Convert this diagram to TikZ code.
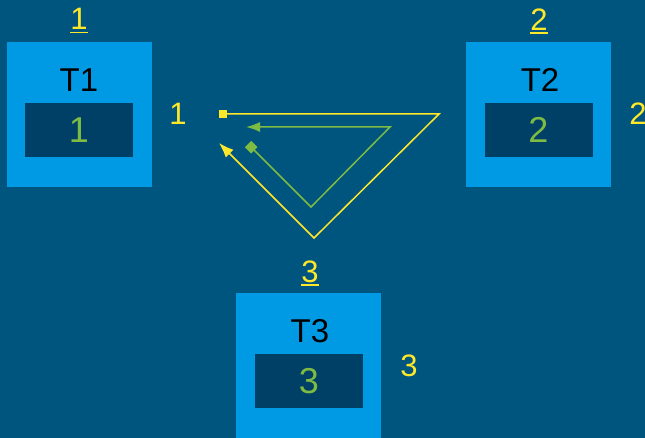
\documentclass[tikz,border=0pt]{standalone}
\usepackage{fontspec}
\setmainfont{Liberation Sans}
\usetikzlibrary{arrows.meta}
\definecolor{bg}{HTML}{00557F}
\definecolor{boxc}{HTML}{0099E3}
\definecolor{innerc}{HTML}{003F66}
\definecolor{yel}{HTML}{FFE829}
\definecolor{grn}{HTML}{7DBB42}
\newcommand{\ulnum}[1]{\setbox0\hbox{#1}\rlap{\rule[-3.5pt]{\wd0}{1.8pt}}#1}
\begin{document}
\begin{tikzpicture}[x=1pt,y=-1pt,
  outerbox/.style={fill=boxc,draw=none,minimum width=145pt,minimum height=145pt,inner sep=0pt},
  innerbox/.style={fill=innerc,draw=none,minimum width=108pt,minimum height=54pt,inner sep=0pt,text=grn,font=\fontsize{36}{40}\selectfont},
  title/.style={text=black,font=\fontsize{33}{36}\selectfont,inner sep=0pt},
  ylab/.style={text=yel,font=\fontsize{31}{34}\selectfont,inner sep=0pt},
  yline/.style={draw=yel,line width=1.5pt},
  gline/.style={draw=grn,line width=1.5pt}]
\fill[bg] (0,0) rectangle (645,438);
\useasboundingbox (0,0) rectangle (645,438);
% boxes
\node[outerbox] (b1) at (79.5,114.5) {};
\node[innerbox] (i1) at (79,130) {1};
\node[title] (t1) at (79,80) {T1};
\node[ylab] (u1) at (79,21) {\ulnum{1}};
\node[ylab] (l1) at (178,114) {1};

\node[outerbox] (b2) at (538.5,114.5) {};
\node[innerbox] (i2) at (538.5,130) {2};
\node[title] (t2) at (540,80) {T2};
\node[ylab] (u2) at (539,21) {\ulnum{2}};
\node[ylab] (l2) at (638,114) {2};

\node[outerbox] (b3) at (308.5,365.5) {};
\node[innerbox] (i3) at (309,381) {3};
\node[title] (t3) at (310,331) {T3};
\node[ylab] (u3) at (310,273) {\ulnum{3}};
\node[ylab] (l3) at (409,366) {3};
% yellow path
\coordinate (ya) at (219,114);
\coordinate (yb) at (439,114);
\coordinate (yc) at (314,238);
\coordinate (yd) at (219,143);
\draw[yline,{Square[length=8pt,width=8pt]}-{Latex[length=15pt,width=11pt]}] (ya) -- (yb) -- (yc) -- (yd);
% green path
\coordinate (ga) at (248,144);
\coordinate (gb) at (311,207);
\coordinate (gc) at (390,127);
\coordinate (gd) at (246,127);
\draw[gline,{Square[length=9pt,width=9pt]}-{Latex[length=14pt,width=10pt]}] (ga) -- (gb) -- (gc) -- (gd);
\end{tikzpicture}
\end{document}
